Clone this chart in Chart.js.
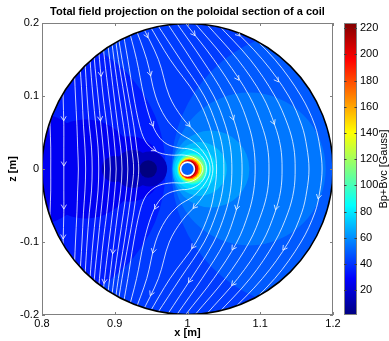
<!DOCTYPE html>
<html>
<head>
<meta charset="utf-8">
<script src="https://cdn.jsdelivr.net/npm/chart.js@4.4.1/dist/chart.umd.min.js"></script>
<style>
  html, body { margin: 0; padding: 0; background: #fff; }
  #wrap { position: relative; width: 389px; height: 341px; }
  #wrap canvas { position: absolute; left: 0; top: 0; }
</style>
</head>
<body>
<div id="wrap">
  <canvas id="field" width="389" height="341"></canvas>
  <canvas id="cbar" width="389" height="341"></canvas>
</div>
<script>
// ---- axes and labels ----
const chartTitle = 'Total field projection on the poloidal section of a coil';
const xTicks = [0.8, 0.9, 1.0, 1.1, 1.2];
const xTickLabels = ['0.8', '0.9', '1', '1.1', '1.2'];
const zTicks = [-0.2, -0.1, 0, 0.1, 0.2];
const zTickLabels = ['-0.2', '-0.1', '0', '0.1', '0.2'];
const barTicks = [20, 40, 60, 80, 100, 120, 140, 160, 180, 200, 220];
const colorRange = [1, 224];           // Gauss, colour axis limits

// ---- geometry: poloidal section and coil ----
const sectionCenter = [1.0, 0.0];
const sectionRadius = 0.2;
const coilCenter = [1.0, 0.0];
const coilRadius = 0.0095;
const coilFieldValue = 50;

// ---- |B| bands (Gauss), painted in order; each band is a union of discs [x, z, r] ----
const bandValues = [42, 35, 26, 14, 1, 48.5, 55, 62, 70, 77, 86, 100, 115, 140, 165, 195, 215];
const bandDiscs = [
  [[1.0, 0, 0.2]],
  [[0.78, 0, 0.19]],
  [[0.79, 0, 0.077], [0.86, 0, 0.068], [0.92, 0, 0.045]],
  [[0.90, 0, 0.018], [0.925, 0, 0.026], [0.948, 0, 0.024]],
  [[0.946, 0, 0.012]],
  [[1.17, 0, 0.192]],
  [[1.085, 0, 0.105]],
  [[1.032, 0, 0.053]],
  [[1.017, 0, 0.037]],
  [[1.011, 0, 0.029]],
  [[1.0065, 0, 0.0215]],
  [[1.006, 0, 0.0198]],
  [[1.005, 0, 0.0182]],
  [[1.0035, 0, 0.0158]],
  [[1.0028, 0, 0.0142]],
  [[1.0021, 0, 0.0128]],
  [[1.0012, 0, 0.0112]]
];

// ---- field lines ----
const zRows = [0.2, 0.15, 0.1, 0.06, 0.03, 0, -0.03, -0.06, -0.1, -0.15, -0.2];
// lines passing left of the X-point (x at each z row)
const leftLinesX = [
  [0.810, 0.810, 0.810, 0.811, 0.812, 0.812, 0.812, 0.811, 0.810, 0.810, 0.810],
  [0.828, 0.828, 0.829, 0.830, 0.830, 0.830, 0.830, 0.830, 0.829, 0.828, 0.828],
  [0.843, 0.844, 0.846, 0.848, 0.849, 0.850, 0.849, 0.848, 0.846, 0.844, 0.843],
  [0.851, 0.852, 0.855, 0.857, 0.859, 0.860, 0.859, 0.857, 0.855, 0.852, 0.851],
  [0.857, 0.859, 0.862, 0.865, 0.868, 0.869, 0.868, 0.865, 0.862, 0.859, 0.857],
  [0.863, 0.866, 0.870, 0.874, 0.877, 0.878, 0.877, 0.874, 0.870, 0.866, 0.863],
  [0.869, 0.872, 0.877, 0.881, 0.884, 0.886, 0.884, 0.881, 0.877, 0.872, 0.869],
  [0.875, 0.879, 0.884, 0.889, 0.892, 0.894, 0.892, 0.889, 0.884, 0.879, 0.875],
  [0.881, 0.886, 0.892, 0.897, 0.900, 0.902, 0.900, 0.897, 0.892, 0.886, 0.881],
  [0.887, 0.893, 0.899, 0.904, 0.908, 0.910, 0.908, 0.904, 0.899, 0.893, 0.887],
  [0.893, 0.899, 0.906, 0.912, 0.916, 0.918, 0.916, 0.912, 0.906, 0.899, 0.893],
  [0.898, 0.905, 0.913, 0.919, 0.923, 0.926, 0.923, 0.919, 0.913, 0.905, 0.898],
  [0.902, 0.910, 0.919, 0.926, 0.930, 0.933, 0.930, 0.926, 0.919, 0.910, 0.902]
];
// lines bending round the right of the coil (x at each z row)
const rightLinesX = [
  [0.946, 0.976, 1.012, 1.030, 1.037, 1.040, 1.037, 1.030, 1.012, 0.976, 0.946],
  [0.957, 0.990, 1.023, 1.040, 1.048, 1.050, 1.048, 1.040, 1.023, 0.990, 0.957],
  [0.972, 1.005, 1.036, 1.052, 1.059, 1.061, 1.059, 1.052, 1.036, 1.005, 0.972],
  [0.985, 1.020, 1.051, 1.066, 1.073, 1.075, 1.073, 1.066, 1.051, 1.020, 0.985],
  [0.997, 1.036, 1.068, 1.084, 1.091, 1.093, 1.091, 1.084, 1.068, 1.036, 0.997],
  [1.010, 1.052, 1.085, 1.102, 1.110, 1.112, 1.110, 1.102, 1.085, 1.052, 1.010],
  [1.025, 1.069, 1.103, 1.120, 1.128, 1.130, 1.128, 1.120, 1.103, 1.069, 1.025],
  [1.040, 1.086, 1.120, 1.138, 1.146, 1.148, 1.146, 1.138, 1.120, 1.086, 1.040],
  [1.055, 1.103, 1.139, 1.157, 1.164, 1.167, 1.164, 1.157, 1.139, 1.103, 1.055],
  [1.070, 1.120, 1.156, 1.175, 1.182, 1.185, 1.182, 1.175, 1.156, 1.120, 1.070]
];
// lines wrapping closely round the coil, next to the separatrix ([x, z] along the line)
const wrapLines = [
  [[0.909,0.2],[0.918,0.15],[0.926,0.1],[0.934,0.06],[0.941,0.04],[0.950,0.029],[0.962,0.022],[0.978,0.019],[0.996,0.019],[1.010,0.015],[1.018,0.008],[1.021,0],
   [1.018,-0.008],[1.010,-0.015],[0.996,-0.019],[0.978,-0.019],[0.962,-0.022],[0.950,-0.029],[0.941,-0.04],[0.934,-0.06],[0.926,-0.1],[0.918,-0.15],[0.909,-0.2]],
  [[0.917,0.2],[0.930,0.15],[0.940,0.1],[0.950,0.065],[0.960,0.045],[0.972,0.034],[0.988,0.029],[1.004,0.027],[1.017,0.020],[1.024,0.010],[1.026,0],
   [1.024,-0.010],[1.017,-0.020],[1.004,-0.027],[0.988,-0.029],[0.972,-0.034],[0.960,-0.045],[0.950,-0.065],[0.940,-0.1],[0.930,-0.15],[0.917,-0.2]],
  [[0.926,0.2],[0.944,0.15],[0.956,0.1],[0.970,0.07],[0.988,0.05],[1.007,0.038],[1.021,0.024],[1.029,0.011],[1.031,0],
   [1.029,-0.011],[1.021,-0.024],[1.007,-0.038],[0.988,-0.05],[0.970,-0.07],[0.956,-0.1],[0.944,-0.15],[0.926,-0.2]],
  [[0.936,0.2],[0.960,0.15],[0.975,0.1],[0.993,0.07],[1.013,0.048],[1.027,0.028],[1.033,0.012],[1.035,0],
   [1.033,-0.012],[1.027,-0.028],[1.013,-0.048],[0.993,-0.07],[0.975,-0.1],[0.960,-0.15],[0.936,-0.2]]
];
// arrowhead positions along the field lines
const arrowAt = [
  [0.831,0.066],[0.831,0.004],[0.882,0.127],[0.882,0.066],[0.950,0.182],[0.947,0.127],[0.952,0.058],
  [1.011,0.183],[1.070,0.180],[1.076,0.125],[1.129,0.122],[1.010,0.064],[1.060,0.066],[1.124,0.063],
  [0.955,0.022],
  [0.831,-0.055],[0.831,-0.096],[0.896,-0.116],[0.947,-0.114],[0.955,-0.055],[0.886,-0.157],[0.952,-0.175],
  [1.012,-0.058],[1.063,-0.055],[1.129,-0.058],[1.179,-0.041],[1.003,-0.107],[1.060,-0.110],[1.135,-0.114],
  [1.002,-0.156],[1.061,-0.160]
];

// ---- styling ----
const FONT = "'Liberation Sans', Arial, Helvetica, sans-serif";
Chart.defaults.font.family = FONT;
Chart.defaults.color = '#000';
const lineColor = 'rgba(255,255,255,0.78)';
const axisColor = '#808080';

// MATLAB-like jet colour map over the colour axis
function jetRGB(v) {
  const t = Math.min(1, Math.max(0, (v - colorRange[0]) / (colorRange[1] - colorRange[0])));
  const c = (x) => Math.round(255 * Math.min(1, Math.max(0, 1.5 - Math.abs(x))));
  return [c(4 * t - 3), c(4 * t - 2), c(4 * t - 1)];
}
function jet(v) { const [r, g, b] = jetRGB(v); return `rgb(${r},${g},${b})`; }

// disc radius given in metres, drawn through the x scale
function discRadius(ctx) {
  const p = ctx.raw;
  if (!p || p.rad === undefined) return 0;
  const sx = ctx.chart.scales.x;
  return Math.abs(sx.getPixelForValue(p.x + p.rad) - sx.getPixelForValue(p.x));
}
function discColor(ctx) {
  const p = ctx.raw;
  return p && p.v !== undefined ? jet(p.v) : 'rgba(0,0,0,0)';
}

function sectionPath(chart) {
  const sx = chart.scales.x, sy = chart.scales.y, ctx = chart.ctx;
  const cx = sx.getPixelForValue(sectionCenter[0]);
  const cy = sy.getPixelForValue(sectionCenter[1]);
  const r = Math.abs(sx.getPixelForValue(sectionCenter[0] + sectionRadius) - cx);
  ctx.beginPath();
  ctx.arc(cx, cy, r, 0, Math.PI * 2);
}

// ---- datasets ----
const discs = [];
bandDiscs.forEach((list, b) => list.forEach(([x, z, r]) => discs.push({ x, y: z, rad: r, v: bandValues[b] })));

const datasets = [];
datasets.push({
  order: 5, domainClip: true,
  data: discs,
  pointStyle: 'circle',
  pointRadius: discRadius,
  pointBackgroundColor: discColor,
  pointBorderWidth: 0
});
datasets.push({
  order: 4, domainClip: true,
  data: [{ x: coilCenter[0], y: coilCenter[1], rad: coilRadius, v: coilFieldValue }],
  pointStyle: 'circle',
  pointRadius: discRadius,
  pointBackgroundColor: discColor,
  pointBorderColor: '#ffffff',
  pointBorderWidth: 1.6
});
function addLine(points) {
  datasets.push({
    order: 3, domainClip: true, streamline: true,
    data: points, showLine: true, borderColor: lineColor, borderWidth: 1,
    pointRadius: 0, tension: 0.35, fill: false
  });
}
leftLinesX.forEach(xs => addLine(xs.map((x, i) => ({ x, y: zRows[i] }))));
rightLinesX.forEach(xs => addLine(xs.map((x, i) => ({ x, y: zRows[i] }))));
wrapLines.forEach(pts => addLine(pts.map(([x, z]) => ({ x, y: z }))));
datasets.push({
  order: 1,
  data: [{ x: sectionCenter[0], y: sectionCenter[1], rad: sectionRadius }],
  pointStyle: 'circle',
  pointRadius: discRadius,
  pointBackgroundColor: 'rgba(0,0,0,0)',
  pointBorderColor: '#000',
  pointBorderWidth: 1.5
});

// ---- plugins ----
const domainClip = {
  id: 'domainClip',
  beforeDatasetDraw(chart, args) {
    if (!chart.data.datasets[args.index].domainClip) return;
    chart.ctx.save();
    sectionPath(chart);
    chart.ctx.clip();
  },
  afterDatasetDraw(chart, args) {
    if (!chart.data.datasets[args.index].domainClip) return;
    chart.ctx.restore();
  }
};

const arrowHeads = {
  id: 'arrowHeads',
  afterDatasetsDraw(chart) {
    const ctx = chart.ctx, sx = chart.scales.x, sy = chart.scales.y;
    const lines = [];
    chart.data.datasets.forEach((d, i) => { if (d.streamline) lines.push(chart.getDatasetMeta(i).data); });
    ctx.save();
    sectionPath(chart);
    ctx.clip();
    ctx.strokeStyle = lineColor;
    ctx.lineWidth = 1;
    for (const [ax, az] of arrowAt) {
      const px = sx.getPixelForValue(ax), py = sy.getPixelForValue(az);
      let best = null;
      for (const pts of lines) {
        for (let k = 0; k < pts.length - 1; k++) {
          const a = pts[k], b = pts[k + 1];
          const dx = b.x - a.x, dy = b.y - a.y, L2 = dx * dx + dy * dy;
          if (!L2) continue;
          let t = ((px - a.x) * dx + (py - a.y) * dy) / L2;
          t = Math.max(0, Math.min(1, t));
          const qx = a.x + t * dx, qy = a.y + t * dy;
          const d2 = (qx - px) ** 2 + (qy - py) ** 2;
          if (!best || d2 < best.d2) {
            const L = Math.sqrt(L2);
            best = { d2, qx, qy, ux: dx / L, uy: dy / L };
          }
        }
      }
      if (!best) continue;
      const len = 4.5, w = 2.6;
      const bx = best.qx - best.ux * len, by = best.qy - best.uy * len;
      const nx = -best.uy, ny = best.ux;
      ctx.beginPath();
      ctx.moveTo(bx + nx * w, by + ny * w);
      ctx.lineTo(best.qx, best.qy);
      ctx.lineTo(bx - nx * w, by - ny * w);
      ctx.stroke();
    }
    ctx.restore();
  }
};

const axesBox = {
  id: 'axesBox',
  afterDraw(chart) {
    const ctx = chart.ctx, a = chart.chartArea;
    const sx = chart.scales.x, sy = chart.scales.y;
    ctx.save();
    ctx.strokeStyle = axisColor;
    ctx.lineWidth = 1;
    ctx.strokeRect(a.left + 0.5, a.top + 0.5, a.right - a.left - 1, a.bottom - a.top - 1);
    ctx.beginPath();
    const tl = 3;
    xTicks.forEach(v => {
      const p = Math.round(sx.getPixelForValue(v)) + 0.5;
      ctx.moveTo(p, a.bottom); ctx.lineTo(p, a.bottom - tl);
      ctx.moveTo(p, a.top); ctx.lineTo(p, a.top + tl);
    });
    zTicks.forEach(v => {
      const p = Math.round(sy.getPixelForValue(v)) + 0.5;
      ctx.moveTo(a.left, p); ctx.lineTo(a.left + tl, p);
      ctx.moveTo(a.right, p); ctx.lineTo(a.right - tl, p);
    });
    ctx.stroke();
    ctx.restore();
  }
};

new Chart(document.getElementById('field'), {
  type: 'scatter',
  data: { datasets },
  options: {
    responsive: false,
    animation: false,
    events: [],
    layout: { padding: { left: 0, right: 56, top: 0, bottom: 0 } },
    plugins: {
      legend: { display: false },
      tooltip: { enabled: false },
      title: {
        display: true, text: chartTitle, fullSize: false, color: '#000',
        font: { size: 11, weight: 'bold' }, padding: { top: 5, bottom: 4.8 }
      }
    },
    scales: {
      x: {
        type: 'linear', min: 0.8, max: 1.2,
        afterBuildTicks: (s) => { s.ticks = xTicks.map(v => ({ value: v })); },
        afterFit: (s) => { s.height = 26; },
        grid: { display: false, drawTicks: false },
        border: { display: false },
        ticks: { callback: (v, i) => xTickLabels[i], padding: 2, maxRotation: 0, autoSkip: false, font: { size: 11 }, color: '#000' },
        title: { display: true, text: 'x [m]', color: '#000', font: { size: 11, weight: 'bold' }, padding: { top: 0, bottom: 1 } }
      },
      y: {
        type: 'linear', min: -0.2, max: 0.2,
        afterBuildTicks: (s) => { s.ticks = zTicks.map(v => ({ value: v })); },
        afterFit: (s) => { s.width = 42; },
        grid: { display: false, drawTicks: false },
        border: { display: false },
        ticks: { callback: (v, i) => zTickLabels[i], padding: 3, autoSkip: false, font: { size: 11 }, color: '#000' },
        title: { display: true, text: 'z [m]', color: '#000', font: { size: 11, weight: 'bold' }, padding: { top: 6.4, bottom: 0 } }
      }
    }
  },
  plugins: [domainClip, arrowHeads, axesBox]
});

// ---- colour bar ----
const jetStops = [0, 0.125, 0.375, 0.625, 0.875, 1];
const colorbarFrame = {
  id: 'colorbarFrame',
  afterDraw(chart) {
    const ctx = chart.ctx, a = chart.chartArea, sy = chart.scales.y;
    ctx.save();
    ctx.strokeStyle = axisColor;
    ctx.lineWidth = 1;
    ctx.strokeRect(a.left + 0.5, a.top + 0.5, a.right - a.left - 1, a.bottom - a.top - 1);
    ctx.strokeStyle = '#404040';
    ctx.beginPath();
    barTicks.forEach(v => {
      const p = Math.round(sy.getPixelForValue(v)) + 0.5;
      ctx.moveTo(a.left, p); ctx.lineTo(a.left + 2.5, p);
      ctx.moveTo(a.right, p); ctx.lineTo(a.right - 2.5, p);
    });
    ctx.stroke();
    ctx.translate(384, (a.top + a.bottom) / 2);
    ctx.rotate(-Math.PI / 2);
    ctx.fillStyle = '#000';
    ctx.font = `11px ${FONT}`;
    ctx.textAlign = 'center';
    ctx.textBaseline = 'middle';
    ctx.fillText('Bp+Bvc [Gauss]', 0, 0);
    ctx.restore();
  }
};

new Chart(document.getElementById('cbar'), {
  type: 'bar',
  data: {
    labels: [''],
    datasets: [{
      data: [colorRange],
      borderWidth: 0,
      barPercentage: 1,
      categoryPercentage: 1,
      backgroundColor: (c) => {
        const { chart } = c;
        if (!chart.chartArea) return jet(colorRange[0]);
        const sy = chart.scales.y;
        const g = chart.ctx.createLinearGradient(0, sy.getPixelForValue(colorRange[0]), 0, sy.getPixelForValue(colorRange[1]));
        jetStops.forEach(t => g.addColorStop(t, jet(colorRange[0] + t * (colorRange[1] - colorRange[0]))));
        return g;
      }
    }]
  },
  options: {
    responsive: false,
    animation: false,
    events: [],
    layout: { padding: { left: 344, right: 0, top: 23, bottom: 26 } },
    plugins: { legend: { display: false }, tooltip: { enabled: false }, title: { display: false } },
    scales: {
      x: { display: false },
      y: {
        position: 'right', min: colorRange[0], max: colorRange[1],
        afterBuildTicks: (s) => { s.ticks = barTicks.map(v => ({ value: v })); },
        afterFit: (s) => { s.width = 32; },
        grid: { display: false, drawTicks: false },
        border: { display: false },
        ticks: { padding: 3, autoSkip: false, font: { size: 11 }, color: '#000' }
      }
    }
  },
  plugins: [colorbarFrame]
});
</script>
</body>
</html>
